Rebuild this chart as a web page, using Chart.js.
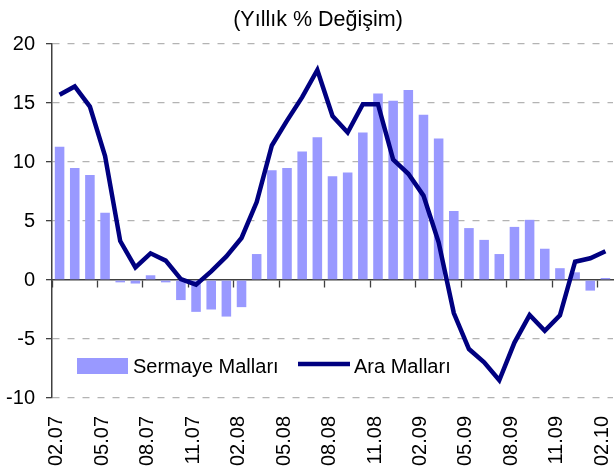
<!DOCTYPE html>
<html lang="tr">
<head>
<meta charset="utf-8">
<title>Yıllık % Değişim</title>
<script src="https://cdn.jsdelivr.net/npm/chart.js@4.4.1/dist/chart.umd.min.js"></script>
<style>
    html, body { margin: 0; padding: 0; background: #ffffff; }
    #wrap { position: relative; width: 614px; height: 470px; }
</style>
</head>
<body>
<div id="wrap"><canvas id="grafik"></canvas></div>
<script>
// Aylar (ay.yıl)
const aylar = [
    '02.07', '03.07', '04.07', '05.07', '06.07', '07.07', '08.07', '09.07', '10.07', '11.07', '12.07',
    '01.08', '02.08', '03.08', '04.08', '05.08', '06.08', '07.08', '08.08', '09.08', '10.08', '11.08', '12.08',
    '01.09', '02.09', '03.09', '04.09', '05.09', '06.09', '07.09', '08.09', '09.09', '10.09', '11.09', '12.09',
    '01.10', '02.10'
];

// Sermaye Malları (çubuk)
const sermayeMallari = [
    11.3, 9.5, 8.9, 5.7, -0.2, -0.3, 0.4, -0.2, -1.7, -2.7, -2.5,
    -3.1, -2.3, 2.2, 9.3, 9.5, 10.9, 12.1, 8.8, 9.1, 12.5, 15.8, 15.2,
    16.1, 14.0, 12.0, 5.85, 4.4, 3.4, 2.2, 4.5, 5.1, 2.65, 1.0, 0.65,
    -0.9, 0.17
];

// Ara Malları (çizgi)
const araMallari = [
    15.7, 16.4, 14.7, 10.5, 3.3, 1.07, 2.26, 1.64, 0.08, -0.4, 0.73,
    2.0, 3.56, 6.6, 11.4, 13.5, 15.5, 17.8, 13.9, 12.5, 14.9, 14.9, 10.2,
    9.0, 7.15, 3.2, -2.8, -5.85, -6.98, -8.5, -5.3, -2.97, -4.3, -3.0, 1.55,
    1.84, 2.43
];

const yEksenMin = -10;
const yEksenMax = 20;
const yAdim = 5;

const BASLIK = '(Yıllık % Değişim)';
const FONT = "'Liberation Sans', Arial, sans-serif";
const RENK_CUBUK = '#9999ff';
const RENK_CIZGI = '#000080';
const RENK_EKSEN = '#404040';

// Başlık: tuvalin ortasından biraz sağda
const baslikPlugin = {
    id: 'baslik',
    afterDraw(chart) {
        const { ctx } = chart;
        ctx.save();
        ctx.font = '21.5px ' + FONT;
        ctx.fillStyle = '#000';
        ctx.textAlign = 'center';
        ctx.textBaseline = 'middle';
        ctx.fillText(BASLIK, chart.width / 2 + 11, 20);
        ctx.restore();
    }
};

// Lejant: grafik alanının içinde, sol altta
const lejantPlugin = {
    id: 'lejant',
    afterDatasetsDraw(chart) {
        const { ctx, chartArea } = chart;
        const y = chartArea.bottom - 32;
        ctx.save();
        ctx.font = '20px ' + FONT;
        ctx.textBaseline = 'middle';
        ctx.fillStyle = RENK_CUBUK;
        let x = chartArea.left + 25;
        ctx.fillRect(x, y - 8, 51, 16);
        ctx.fillStyle = '#000';
        ctx.fillText(chart.data.datasets[0].label, x + 56, y + 1);

        x = chartArea.left + 246;
        ctx.strokeStyle = RENK_CIZGI;
        ctx.lineWidth = 4.5;
        ctx.beginPath();
        ctx.moveTo(x, y - 2);
        ctx.lineTo(x + 52, y - 2);
        ctx.stroke();
        ctx.fillText(chart.data.datasets[1].label, x + 56, y + 1);
        ctx.restore();
    }
};

const ctx = document.getElementById('grafik').getContext('2d');
const grafik = new Chart(ctx, {
    data: {
        labels: aylar,
        datasets: [
            {
                type: 'bar',
                label: 'Sermaye Malları',
                data: sermayeMallari,
                backgroundColor: RENK_CUBUK,
                borderWidth: 0,
                categoryPercentage: 1.0,
                barPercentage: 0.63,
                order: 2
            },
            {
                type: 'line',
                label: 'Ara Malları',
                data: araMallari,
                borderColor: RENK_CIZGI,
                borderWidth: 4.5,
                pointRadius: 0,
                tension: 0,
                fill: false,
                order: 1
            }
        ]
    },
    options: {
        responsive: true,
        maintainAspectRatio: false,
        animation: false,
        layout: { padding: { left: 0, right: 1, top: 44, bottom: 0 } },
        plugins: {
            legend: { display: false },
            tooltip: { enabled: false },
            title: { display: false }
        },
        scales: {
            x: {
                type: 'category',
                position: 'bottom',
                offset: true,
                grid: { display: false },
                border: { display: false },
                ticks: {
                    autoSkip: false,
                    minRotation: 90,
                    maxRotation: 90,
                    padding: 10,
                    labelOffset: -3,
                    color: '#000',
                    font: { family: FONT, size: 20 },
                    callback: function(value, index) {
                        return index % 3 === 0 ? aylar[index] : '';
                    }
                },
                afterFit: function(scale) {
                    scale.height = 72;
                    scale.paddingLeft = 0;
                    scale.paddingRight = 0;
                }
            },
            // Sıfır çizgisi ve çeyrek işaretleri
            x2: {
                type: 'category',
                position: { y: 0 },
                offset: true,
                grid: {
                    offset: true,
                    drawOnChartArea: false,
                    drawTicks: true,
                    tickLength: 7,
                    tickWidth: 1.3,
                    tickColor: function(c) {
                        return c.index % 3 === 0 ? RENK_EKSEN : 'rgba(0,0,0,0)';
                    }
                },
                border: { color: RENK_EKSEN, width: 1.5 },
                ticks: { display: false }
            },
            y: {
                min: yEksenMin,
                max: yEksenMax,
                ticks: {
                    stepSize: yAdim,
                    padding: 11,
                    color: '#000',
                    font: { family: FONT, size: 20 }
                },
                grid: {
                    color: function(c) {
                        return c.tick && c.tick.value === 0 ? 'rgba(0,0,0,0)' : '#b3b3b3';
                    },
                    lineWidth: 1.3,
                    tickLength: 6,
                    tickColor: RENK_EKSEN,
                    tickWidth: 1.3
                },
                border: { color: RENK_EKSEN, width: 1.5, dash: [7, 8] },
                afterFit: function(scale) {
                    scale.width = 52;
                    scale.paddingTop = 0;
                    scale.paddingBottom = 0;
                }
            }
        }
    },
    plugins: [baslikPlugin, lejantPlugin]
});
</script>
</body>
</html>
